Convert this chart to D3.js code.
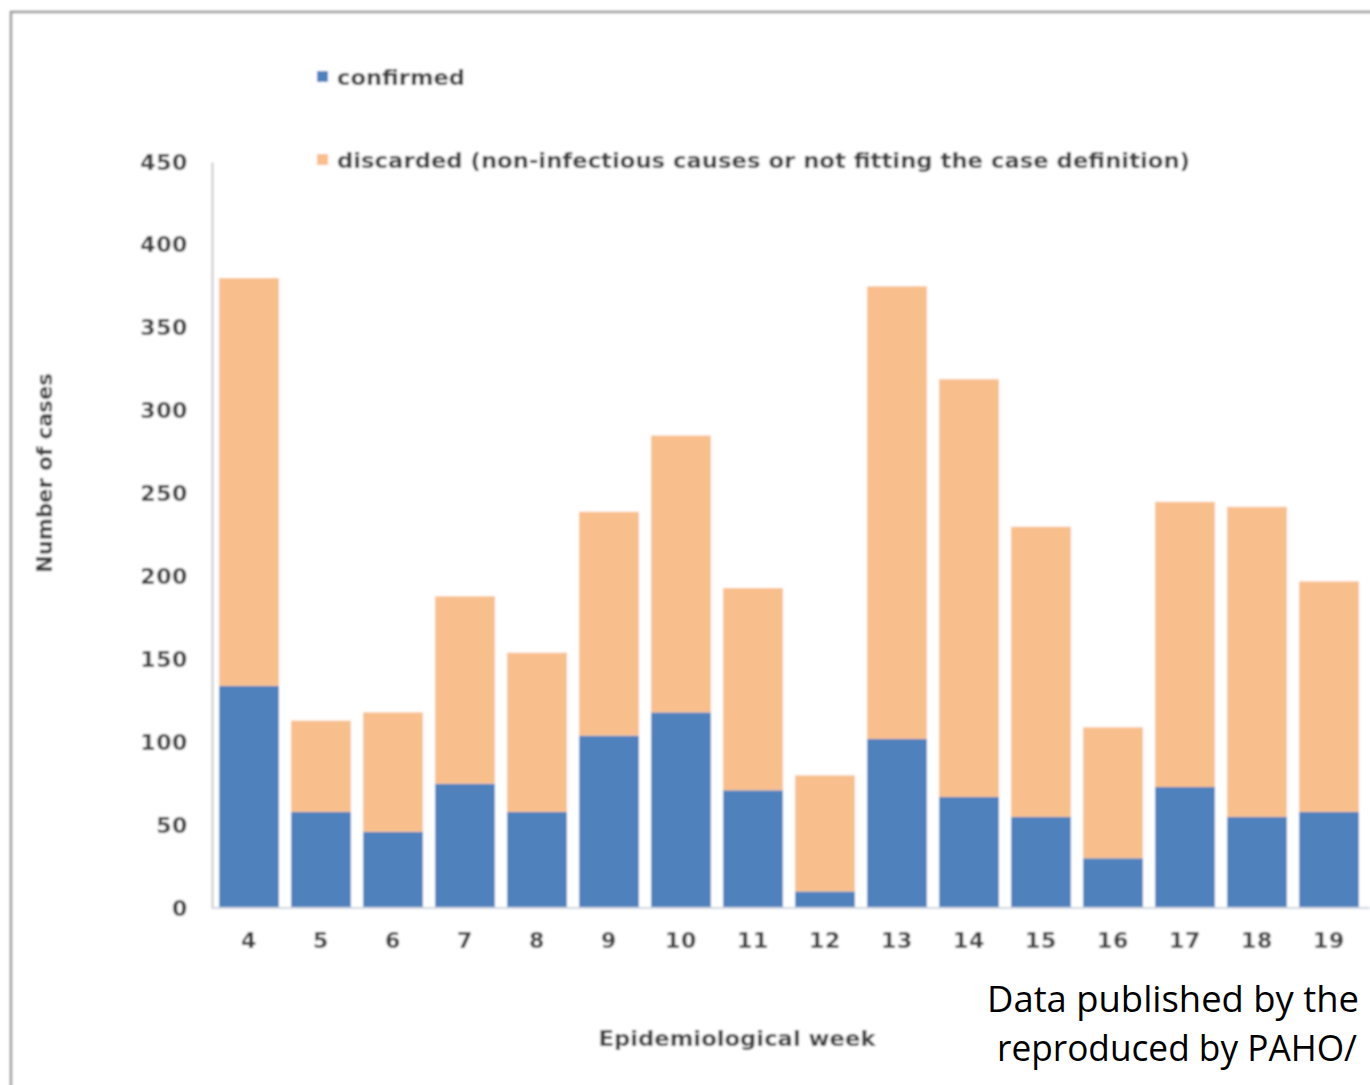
<!DOCTYPE html>
<html>
<head>
<meta charset="utf-8">
<script src="https://cdn.jsdelivr.net/npm/d3@7"></script>
<style>
  html, body { margin: 0; padding: 0; background: #fff; overflow: hidden; }
  svg { display: block; }
</style>
</head>
<body>
<script>
// Epidemiological weeks shown on the x axis
const weeks = ["4", "5", "6", "7", "8", "9", "10", "11", "12", "13", "14", "15", "16", "17", "18", "19"];
// Confirmed cases per week
const confirmed = [134, 58, 46, 75, 58, 104, 118, 71, 10, 102, 67, 55, 30, 73, 55, 58];
// Discarded cases per week (stacked on top of confirmed)
const discarded = [246, 55, 72, 113, 96, 135, 167, 122, 70, 273, 252, 175, 79, 172, 187, 139];
// Y axis tick values
const yTicks = [0, 50, 100, 150, 200, 250, 300, 350, 400, 450];
const seriesNames = ["confirmed", "discarded (non-infectious causes or not fitting the case definition)"];
const seriesColors = ["#4f81bd", "#f8bf8d"];
const noteLines = ["Data published by the", "reproduced by PAHO/"];

const W = 1370, H = 1085;
const svg = d3.select("body").append("svg").attr("width", W).attr("height", H);

const defs = svg.append("defs");
defs.append("filter").attr("id", "soft")
  .attr("x", "-5%").attr("y", "-5%").attr("width", "110%").attr("height", "110%")
  .append("feGaussianBlur").attr("stdDeviation", 0.9);

const chart = svg.append("g").attr("filter", "url(#soft)");

// outer frame
chart.append("rect").attr("x", 11).attr("y", 12).attr("width", W + 20).attr("height", H + 20)
  .attr("fill", "#fff").attr("stroke", "#9a9a9a").attr("stroke-width", 2.5);

const plot = { left: 213, right: 1365, top: 162, bottom: 908 };

const x = d3.scaleBand().domain(weeks).range([plot.left, plot.right]).paddingInner(0.17).paddingOuter(0.085);
const y = d3.scaleLinear().domain([0, 450]).range([plot.bottom, plot.top]);

const rows = weeks.map((w, i) => ({ week: w, confirmed: confirmed[i], discarded: discarded[i] }));
const stack = d3.stack().keys(["confirmed", "discarded"])(rows);

chart.append("g").selectAll("g").data(stack).join("g")
  .attr("fill", (d, i) => seriesColors[i])
  .selectAll("rect").data(d => d).join("rect")
  .attr("x", d => x(d.data.week))
  .attr("width", x.bandwidth())
  .attr("y", d => y(d[1]))
  .attr("height", d => y(d[0]) - y(d[1]));

const textColor = "#3d3d3d";
const font = "'DejaVu Sans', Verdana, sans-serif";

// y axis
const yAxis = chart.append("g").attr("transform", `translate(${plot.left - 1},0)`)
  .call(d3.axisLeft(y).tickValues(yTicks).tickSize(0).tickPadding(24));
yAxis.select(".domain").attr("stroke", "#c8c8c8").attr("stroke-width", 2);
yAxis.selectAll("text").attr("fill", textColor).attr("font-family", font)
  .attr("font-size", 22).attr("letter-spacing", 0.6).attr("font-weight", 600);

// x axis
const xAxis = chart.append("g").attr("transform", `translate(0,${plot.bottom})`)
  .call(d3.axisBottom(x).tickSize(0).tickPadding(24));
xAxis.select(".domain").attr("stroke", "#cfd6de").attr("stroke-width", 2)
  .attr("d", `M${plot.left - 1},0H${W}`);
xAxis.selectAll("text").attr("fill", textColor).attr("font-family", font)
  .attr("font-size", 22).attr("letter-spacing", 0.6).attr("font-weight", 600);

// axis titles
chart.append("text")
  .attr("transform", `translate(52,473) rotate(-90)`)
  .attr("text-anchor", "middle").attr("fill", textColor).attr("font-family", font)
  .attr("font-size", 22).attr("font-weight", 600)
  .attr("textLength", 200).attr("lengthAdjust", "spacingAndGlyphs")
  .text("Number of cases");

chart.append("text")
  .attr("x", 737).attr("y", 1046).attr("text-anchor", "middle")
  .attr("fill", textColor).attr("font-family", font)
  .attr("font-size", 22).attr("font-weight", 600)
  .attr("textLength", 277).attr("lengthAdjust", "spacingAndGlyphs")
  .text("Epidemiological week");

// legend
const legendY = [77, 160];
const legendLen = [128, 853];
const legend = chart.append("g");
seriesNames.forEach((name, i) => {
  legend.append("rect").attr("x", 317).attr("y", legendY[i] - 6).attr("width", 11).attr("height", 11)
    .attr("fill", seriesColors[i]);
  legend.append("text").attr("x", 337).attr("y", legendY[i] + 8)
    .attr("fill", textColor).attr("font-family", font).attr("font-size", 22).attr("font-weight", 600)
    .attr("textLength", legendLen[i]).attr("lengthAdjust", "spacingAndGlyphs")
    .text(name);
});

// source note
const note = svg.append("g").attr("font-family", "'Open Sans', 'Noto Sans', sans-serif")
  .attr("font-size", 36).attr("fill", "#000");
const noteX = [987, 997], noteY = [1012, 1061], noteLen = [372, 360];
noteLines.forEach((t, i) => {
  note.append("text").attr("x", noteX[i]).attr("y", noteY[i])
    .attr("textLength", noteLen[i]).attr("lengthAdjust", "spacingAndGlyphs")
    .text(t);
});
</script>
</body>
</html>
